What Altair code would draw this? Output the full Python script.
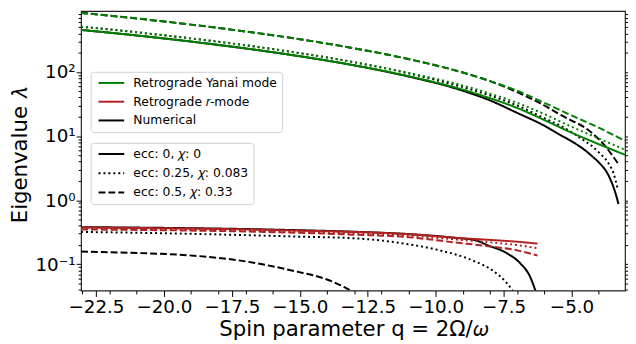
import altair as alt
import pandas as pd

# ---------------- data ----------------
MODES = ["Retrograde Yanai mode", "Retrograde 𝑟-mode", "Numerical"]
MODE_COLORS = ["#008000", "#b22222", "#000000"]
ECCS = ["ecc: 0, 𝜒: 0", "ecc: 0.25, 𝜒: 0.083", "ecc: 0.5, 𝜒: 0.33"]
ECC_DASH = [[1, 0], [2, 3], [7, 3]]

# Retrograde Yanai mode (analytic)
yanai_q = [-23.05, -21, -19, -17, -15, -13, -11, -9, -8, -7, -6, -5, -4, -3.03]
yanai_e0 = [453, 371, 298, 233, 176, 127, 86, 53, 39, 27.5, 17.8, 11.3, 7.5, 5.1]
yanai_e025 = [509, 416, 334, 261, 197, 142, 97, 61.5, 46, 33, 22, 14, 9.2, 6.1]
yanai_e05 = [835, 683, 548, 428, 324, 234, 159, 98, 72, 51, 33, 21, 13.5, 8.4]

# Retrograde r-mode (analytic)
rmode_q = [-23.05, -20, -17, -15, -13, -11, -9.32, -8, -7, -6.25]
rmode_e0 = [0.375, 0.365, 0.35, 0.335, 0.32, 0.295, 0.26, 0.24, 0.225, 0.21]
rmode_e025 = [0.36, 0.35, 0.335, 0.32, 0.305, 0.28, 0.245, 0.22, 0.2, 0.178]
rmode_e05 = [0.35, 0.34, 0.325, 0.31, 0.29, 0.265, 0.22, 0.19, 0.165, 0.137]

# Numerical, upper branch
num_up_e0_q = [-23.05, -21, -19, -17, -15, -13, -11, -9, -8, -7, -6, -5.45, -5, -4.5, -4.23, -4, -3.63, -3.39, -3.27]
num_up_e0 = [453, 371, 298, 233, 176, 127, 85, 51, 36, 23, 14.5, 10.6, 8.3, 6.0, 4.8, 3.9, 2.4, 1.32, 0.87]
num_up_e025_q = [-23.05, -21, -19, -17, -15, -13, -11, -9, -8, -7, -6, -5.45, -5, -4.5, -4.23, -4, -3.63, -3.45, -3.3]
num_up_e025 = [509, 416, 334, 261, 197, 142, 95, 58, 43, 30, 19, 14.8, 11.5, 8.3, 6.9, 5.6, 3.7, 2.6, 1.5]
num_up_e05_q = [-23.05, -21, -19, -17, -15, -13, -11, -9, -8, -7, -6, -5.45, -5, -4.5, -4.23, -3.8, -3.5, -3.3]
num_up_e05 = [835, 683, 548, 428, 324, 234, 159, 98, 72, 48.5, 30, 22, 17.5, 13.5, 11, 7.3, 5.0, 3.8]

# Numerical, lower branch
num_lo_e0_q = [-23.05, -20, -17, -15, -13, -11, -9.32, -8.5, -8.11, -7.38, -6.9, -6.54, -6.3]
num_lo_e0 = [0.38, 0.37, 0.355, 0.34, 0.322, 0.296, 0.26, 0.235, 0.2, 0.149, 0.105, 0.066, 0.036]
num_lo_e025_q = [-23.05, -20, -17, -15, -12.95, -11.14, -9.93, -8.71, -7.87, -7.38, -7.15]
num_lo_e025 = [0.32, 0.305, 0.285, 0.27, 0.254, 0.21, 0.168, 0.118, 0.078, 0.051, 0.038]
num_lo_e05_q = [-23.05, -21, -19.41, -17, -15.18, -14, -13.36, -13.1]
num_lo_e05 = [0.158, 0.15, 0.141, 0.111, 0.078, 0.058, 0.044, 0.038]

# axis ticks
x_major = [-22.5, -20.0, -17.5, -15.0, -12.5, -10.0, -7.5, -5.0]
x_minor = [-23, -22, -21, -19, -18, -17, -16, -14, -13, -12, -11, -9, -8, -7, -6, -4]
y_major = [0.1, 1, 10, 100]
y_minor = [0.04, 0.05, 0.06, 0.07, 0.08, 0.09,
           0.2, 0.3, 0.4, 0.5, 0.6, 0.7, 0.8, 0.9,
           2, 3, 4, 5, 6, 7, 8, 9,
           20, 30, 40, 50, 60, 70, 80, 90,
           200, 300, 400, 500, 600, 700, 800]

# ---------------- build table ----------------
series = [
    (MODES[2], ECCS[0], "num_up_0", num_up_e0_q, num_up_e0),
    (MODES[2], ECCS[1], "num_up_1", num_up_e025_q, num_up_e025),
    (MODES[2], ECCS[2], "num_up_2", num_up_e05_q, num_up_e05),
    (MODES[2], ECCS[0], "num_lo_0", num_lo_e0_q, num_lo_e0),
    (MODES[2], ECCS[1], "num_lo_1", num_lo_e025_q, num_lo_e025),
    (MODES[2], ECCS[2], "num_lo_2", num_lo_e05_q, num_lo_e05),
    (MODES[0], ECCS[0], "yan_0", yanai_q, yanai_e0),
    (MODES[0], ECCS[1], "yan_1", yanai_q, yanai_e025),
    (MODES[0], ECCS[2], "yan_2", yanai_q, yanai_e05),
    (MODES[1], ECCS[0], "r_0", rmode_q, rmode_e0),
    (MODES[1], ECCS[1], "r_1", rmode_q, rmode_e025),
    (MODES[1], ECCS[2], "r_2", rmode_q, rmode_e05),
]
rows = []
for mode, ecc, sid, qs, vals in series:
    for i, (q, v) in enumerate(zip(qs, vals)):
        rows.append({"mode": mode, "ecc": ecc, "sid": sid, "i": i, "q": q, "lam": v})
df = pd.DataFrame(rows)

FONT = "DejaVu Sans"
W, H = 551, 283

x_vals = sorted(x_major + x_minor)
y_vals = sorted(y_minor + y_major)
x_is_major = "abs(datum.value % 2.5) < 1e-9"
y_is_major = "datum.value == 0.1 || datum.value == 1 || datum.value == 10 || datum.value == 100"

x_axis = alt.Axis(
    values=x_vals, title="Spin parameter q = 2Ω/𝜔",
    labelExpr=f"({x_is_major}) ? format(datum.value, '.1f') : ''",
    tickSize={"condition": {"test": x_is_major, "value": 6}, "value": 3.5},
    tickColor="black", tickWidth=1, domain=False, grid=False,
    labelFontSize=18.5, labelColor="black", labelPadding=1, labelOverlap=False,
    labelFlush=False, titleFontSize=21.5, titleFontWeight="normal", titleColor="black",
    titleBaseline="alphabetic", titleY=45.5,
)
y_axis = alt.Axis(
    values=y_vals, title="Eigenvalue 𝜆",
    labelExpr=("datum.value == 100 ? '10²' : datum.value == 10 ? '10¹' : "
               "datum.value == 1 ? '10⁰' : datum.value == 0.1 ? '10⁻¹' : ''"),
    tickSize={"condition": {"test": y_is_major, "value": 5}, "value": 3},
    tickColor="black", tickWidth=1, domain=False, grid=False,
    labelFontSize=18.5, labelColor="black", labelPadding=1, labelOverlap=False,
    labelFlush=False, titleFontSize=21.5, titleFontWeight="normal", titleColor="black",
    titleBaseline="alphabetic", titleX=-55.5, titleY=146, titleAngle=270,
)
y_axis_right = alt.Axis(
    values=y_vals, title=None, labels=False, orient="right",
    tickSize={"condition": {"test": y_is_major, "value": 5}, "value": 3},
    tickColor="black", tickWidth=1, domain=False, grid=False,
)

x_scale = alt.Scale(domain=[-23.05, -3.03], nice=False, zero=False)
y_scale = alt.Scale(type="log", domain=[0.039, 890], nice=False)

# legend symbol: a 26px horizontal stroke drawn from a small nominal size
legend_common = dict(
    orient="none", title=None,
    symbolType="M-4,0H4", symbolSize=42.25, symbolStrokeWidth=2,
    symbolOffset=9.75, labelOffset=16,
    labelFontSize=12.5, labelFont=FONT, labelColor="black",
    strokeColor="#d0d0d0", fillColor="white", cornerRadius=3, padding=5,
)
color_enc = alt.Color(
    "mode:N",
    scale=alt.Scale(domain=MODES, range=MODE_COLORS),
    legend=alt.Legend(legendX=9.7, legendY=61.5, rowPadding=6, **legend_common),
)
dash_enc = alt.StrokeDash(
    "ecc:N",
    scale=alt.Scale(domain=ECCS, range=ECC_DASH),
    legend=alt.Legend(legendX=9.7, legendY=133.5, rowPadding=6.5,
                      symbolStrokeColor="black", **legend_common),
)

base = alt.Chart(df)

numerical = base.transform_filter(alt.datum.mode == "Numerical").mark_line(
    strokeWidth=2, clip=True, interpolate="monotone"
).encode(
    x=alt.X("q:Q", scale=x_scale, axis=x_axis),
    y=alt.Y("lam:Q", scale=y_scale, axis=y_axis),
    color=color_enc, strokeDash=dash_enc, detail="sid:N", order="i:Q",
)
analytic = base.transform_filter(alt.datum.mode != "Numerical").mark_line(
    strokeWidth=2, clip=True, interpolate="monotone"
).encode(
    x=alt.X("q:Q", scale=x_scale, axis=x_axis),
    y=alt.Y("lam:Q", scale=y_scale, axis=y_axis),
    color=color_enc, strokeDash=dash_enc, detail="sid:N", order="i:Q",
)
right = base.mark_line(strokeOpacity=0, clip=True).encode(
    x=alt.X("q:Q", scale=x_scale, axis=x_axis),
    y=alt.Y("lam:Q", scale=y_scale, axis=y_axis_right),
    detail="sid:N",
)

chart = alt.layer(alt.layer(numerical, analytic), right).resolve_axis(
    y="independent"
).properties(
    width=W, height=H,
    autosize=alt.AutoSizeParams(type="none"),
    padding={"left": 74, "top": 1, "right": 3, "bottom": 50},
).configure(font=FONT).configure_view(stroke="#222222", strokeWidth=1.2)

chart.save("out.html", embed_options={"renderer": "svg", "actions": False})
